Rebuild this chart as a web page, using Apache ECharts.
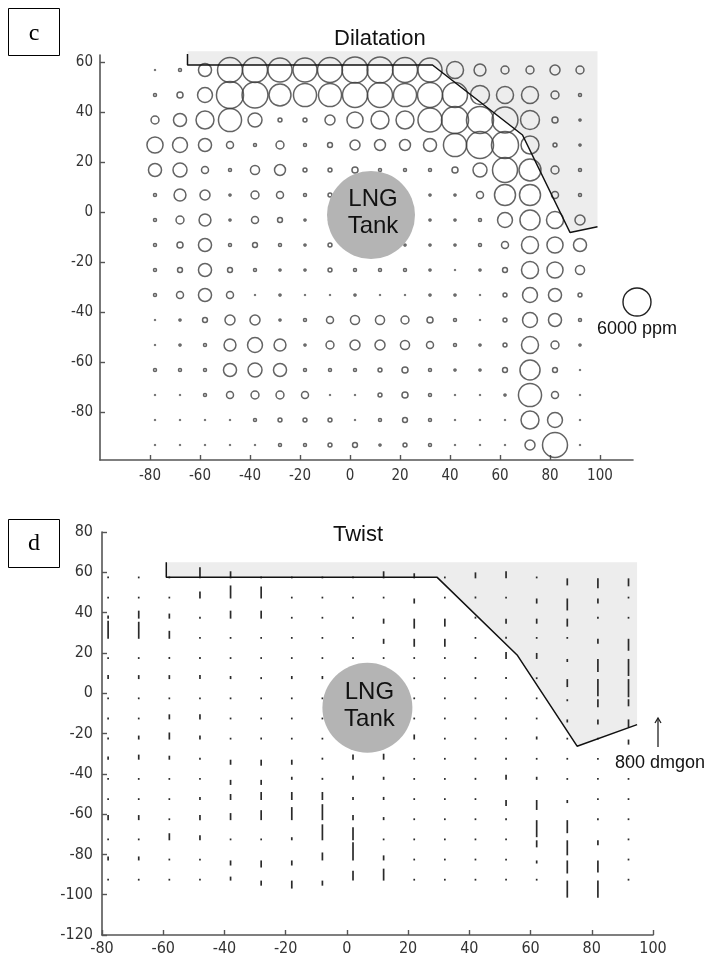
<!DOCTYPE html>
<html>
<head>
<meta charset="utf-8">
<script src="https://cdn.jsdelivr.net/npm/echarts@6/dist/echarts.min.js"></script>
<style>
html, body { margin: 0; padding: 0; background: #fff; }
#chart { width: 721px; height: 961px; }
</style>
</head>
<body>
<div id="chart"></div>
<script>
// measurement grid (same points in both panels)
var gridX = [-78, -68, -58, -48, -38, -28, -18, -8, 2, 12, 22, 32, 42, 52, 62, 72, 82, 92];
var gridY = [57, 47, 37, 27, 17, 7, -3, -13, -23, -33, -43, -53, -63, -73, -83, -93];

// dilatation in ppm, one row per gridY value
var dilatationPpm = [
    [200, 650, 2800, 5350, 5350, 5150, 5150, 5350, 5550, 5550, 5350, 5150, 3650, 2550, 1700, 1700, 2150, 1700],
    [650, 1300, 3200, 5800, 5550, 4700, 4950, 4950, 5350, 5350, 4950, 5350, 5350, 4050, 3650, 3650, 1700, 650],
    [1700, 2800, 3850, 4950, 3000, 850, 850, 2150, 3450, 3850, 3850, 5150, 5800, 5800, 5550, 4050, 1300, 450],
    [3450, 3200, 2800, 1500, 650, 1700, 650, 1050, 2150, 2350, 2350, 2800, 4950, 5800, 5800, 3850, 850, 450],
    [2800, 3000, 1500, 650, 1950, 2350, 850, 850, 1300, 650, 650, 650, 1300, 3000, 5350, 4700, 1700, 650],
    [650, 2550, 2150, 450, 1700, 1500, 650, 850, 650, 650, 650, 450, 450, 1500, 4500, 4500, 1500, 650],
    [650, 1700, 2550, 450, 1500, 1050, 450, 650, 650, 650, 650, 450, 450, 650, 3200, 4300, 3650, 2150],
    [650, 1300, 2800, 650, 1050, 650, 450, 850, 650, 650, 450, 450, 450, 650, 1500, 3650, 3450, 2800],
    [650, 1050, 2800, 1050, 650, 450, 450, 850, 650, 650, 650, 450, 200, 450, 1050, 3650, 3450, 1950],
    [650, 1500, 2800, 1500, 200, 450, 200, 200, 450, 200, 200, 450, 450, 200, 850, 3200, 2800, 850],
    [200, 450, 1050, 2150, 2150, 450, 650, 1500, 1950, 1950, 1700, 1300, 650, 200, 850, 3200, 2800, 650],
    [200, 450, 650, 2550, 3200, 2550, 450, 1700, 2150, 2150, 1950, 1500, 650, 450, 850, 3650, 1700, 450],
    [650, 650, 650, 2800, 3000, 2800, 650, 650, 650, 850, 1300, 650, 450, 450, 1050, 4300, 1050, 200],
    [200, 200, 650, 1500, 1700, 1700, 1500, 200, 200, 850, 1300, 650, 200, 200, 450, 4950, 1500, 200],
    [200, 200, 200, 200, 650, 850, 850, 850, 200, 650, 1050, 650, 200, 200, 200, 3850, 3200, 200],
    [200, 200, 200, 200, 200, 650, 650, 850, 1050, 450, 850, 650, 200, 200, 200, 2150, 5350, 200]
];

// twist in dmgon (positive = up), one row per gridY value
var twistDmgon = [
    [30, 30, 30, 305, 195, 30, 30, 30, 30, 195, 140, 30, 165, 195, 30, -195, -275, -220],
    [30, 30, 30, 195, 360, 330, 30, 30, 30, 30, -140, 30, 55, 30, -140, -330, -140, 30],
    [85, 220, 140, 30, 220, 220, 30, 30, 30, -140, -275, -220, 55, -140, -140, -220, 30, 30],
    [500, 470, 220, 30, 30, 30, 30, 30, 30, -140, -220, -220, 30, 55, 30, 30, -140, -330],
    [30, 30, 55, 55, 30, 30, 30, 30, 30, 30, 30, 30, 55, 195, 165, -85, -360, -470],
    [110, 110, 110, 110, 85, 55, 85, 85, 0, 0, 30, 30, 55, 55, 30, -220, -470, -500],
    [30, 30, 30, 30, 30, 30, 30, 30, 0, 0, 30, 30, 30, 30, 30, -55, -220, -195],
    [30, 30, 140, 140, 30, 30, 30, 30, 0, 0, 30, 30, 30, 30, 30, -85, -140, -220],
    [55, 110, 195, 110, 30, 55, 30, 30, 0, 0, 140, 30, 30, 30, 85, 30, 30, -140],
    [85, 140, 110, 55, -140, -165, -140, 55, 140, 165, 30, 30, 55, 55, 30, 30, 30, 30],
    [30, 30, 30, 30, -140, -140, 85, 55, 110, 85, 30, 30, 55, 140, 85, 30, 30, 30],
    [30, 30, 30, 85, 165, 220, 220, 220, 85, 85, 30, 30, 30, -165, -275, -85, 30, 30],
    [140, 140, 30, 140, 195, 275, 360, 440, 140, 85, 30, 30, 30, 55, -470, -360, 30, 30],
    [30, 30, 195, 140, 30, 30, 85, 440, 360, 30, 30, 30, 30, 30, -195, -415, -140, 30],
    [110, 110, 30, 30, -140, -195, -140, 220, 500, 140, 30, 30, 30, 30, -85, -360, -330, 30],
    [30, 30, 30, 30, 110, -140, -220, -140, 275, 330, 30, 30, 30, 30, 30, -470, -470, 30]
];

var xTicks = [-80, -60, -40, -20, 0, 20, 40, 60, 80, 100];
var yTicksTop = [-80, -60, -40, -20, 0, 20, 40, 60];
var yTicksBottom = [-120, -100, -80, -60, -40, -20, 0, 20, 40, 60, 80];

// boundary lines
var topBoundX = [-65, -65, 33, 69, 88, 99];
var topBoundY = [63.4, 59, 59, 31, -8, -5.7];
var topShadeX = [-65, -65, 33, 69, 88, 99, 99];
var topShadeY = [64.5, 59, 59, 31, -8, -5.7, 64.5];
var botBoundX = [-59, -59, 29.5, 55.6, 75.2, 94.8];
var botBoundY = [65, 57.5, 57.5, 19, -26.3, -15.6];
var botShadeX = [-59, -59, 29.5, 55.6, 75.2, 94.8, 94.8];
var botShadeY = [65, 57.5, 57.5, 19, -26.3, -15.6, 65];

// tank position and radius (x units)
var tankTop = [8.4, -1];
var tankTopRadius = 17.6;
var tankBottom = [6.7, -7.2];
var tankBottomRadius = 14.7;

var ppmKey = 6000;
var dmgonKey = 800;
var ppmPx = 28 / 6000;   // bubble diameter per ppm
var dmgonPx = 29 / 800;  // segment length per dmgon

var tickFont = "'Liberation Sans Narrow', 'DejaVu Sans Condensed', 'Liberation Sans', sans-serif";
var textFont = "'Liberation Sans', Arial, sans-serif";
var axisColor = '#555';

var bubbles = [];
var twists = [];
gridY.forEach(function (y, i) {
    gridX.forEach(function (x, j) {
        bubbles.push([x, y, dilatationPpm[i][j]]);
        twists.push([x, y, twistDmgon[i][j]]);
    });
});

function pairs(xs, ys) {
    return xs.map(function (x, i) { return [x, ys[i]]; });
}

function shadeRenderer(xs, ys) {
    return function (params, api) {
        var pts = xs.map(function (x, i) { return api.coord([x, ys[i]]); });
        return { type: 'polygon', shape: { points: pts }, style: { fill: '#ededed' }, silent: true };
    };
}

function tankRenderer(c, r) {
    return function (params, api) {
        var p = api.coord(c);
        var rp = api.size([r, 0])[0];
        return {
            type: 'group',
            children: [
                { type: 'circle', shape: { cx: p[0], cy: p[1], r: rp }, style: { fill: '#b4b4b4' } },
                { type: 'text', x: p[0] + 2, y: p[1] - 2, style: {
                    text: 'LNG\nTank', fill: '#111', font: '24px ' + textFont,
                    align: 'center', verticalAlign: 'middle', lineHeight: 27 } }
            ]
        };
    };
}

function tickFilter(list) {
    return function (v) { return list.indexOf(Math.round(v * 1000) / 1000) >= 0 ? String(v) : ''; };
}

function valueAxis(idx, min, max, ticks, fontSize, margin) {
    return {
        type: 'value', gridIndex: idx, min: min, max: max,
        splitLine: { show: false },
        axisLine: { show: true, onZero: false, lineStyle: { color: axisColor, width: 1.6 } },
        axisTick: { show: true, inside: true, length: 5, customValues: ticks, lineStyle: { color: axisColor, width: 1.4 } },
        axisLabel: { customValues: ticks, formatter: tickFilter(ticks), color: '#333',
            fontFamily: tickFont, fontSize: fontSize, margin: margin,
            showMinLabel: true, showMaxLabel: true }
    };
}

var myChart = echarts.init(document.getElementById('chart'), null, { renderer: 'canvas' });

var option = {
    animation: false,
    backgroundColor: '#fff',
    grid: [
        { left: 100, top: 55, width: 533, height: 405 },
        { left: 102, top: 532, width: 551, height: 403 }
    ],
    xAxis: [
        valueAxis(0, -100, 113.2, xTicks, 15, 9),
        valueAxis(1, -80, 100, xTicks, 16, 6)
    ],
    yAxis: [
        valueAxis(0, -99, 63, yTicksTop, 15, 7),
        valueAxis(1, -120, 80, yTicksBottom, 16, 9)
    ],
    series: [
        { type: 'custom', xAxisIndex: 0, yAxisIndex: 0, data: [0], z: 1, silent: true,
          renderItem: shadeRenderer(topShadeX, topShadeY) },
        { type: 'scatter', xAxisIndex: 0, yAxisIndex: 0, data: bubbles, z: 2, silent: true,
          symbol: 'circle',
          symbolSize: function (v) { return Math.max(v[2] * ppmPx, 0.8); },
          itemStyle: { color: 'rgba(0,0,0,0)', borderColor: '#3c3c3c', borderWidth: 1.5 } },
        { type: 'line', xAxisIndex: 0, yAxisIndex: 0, data: pairs(topBoundX, topBoundY), z: 3,
          clip: false, symbol: 'none', silent: true, lineStyle: { color: '#111', width: 1.5 } },
        { type: 'custom', xAxisIndex: 0, yAxisIndex: 0, data: [0], z: 4, silent: true,
          renderItem: tankRenderer(tankTop, tankTopRadius) },

        { type: 'custom', xAxisIndex: 1, yAxisIndex: 1, data: [0], z: 1, silent: true,
          renderItem: shadeRenderer(botShadeX, botShadeY) },
        { type: 'custom', xAxisIndex: 1, yAxisIndex: 1, data: twists, z: 2, silent: true,
          encode: { x: 0, y: 1 },
          renderItem: function (params, api) {
              var p = api.coord([api.value(0), api.value(1)]);
              var len = api.value(2) * dmgonPx;
              if (Math.abs(len) < 1.8) { len = len < 0 ? -1.8 : 1.8; }
              return { type: 'line', shape: { x1: p[0], y1: p[1], x2: p[0], y2: p[1] - len },
                       style: { stroke: '#2a2a2a', lineWidth: 1.7 } };
          } },
        { type: 'line', xAxisIndex: 1, yAxisIndex: 1, data: pairs(botBoundX, botBoundY), z: 3,
          clip: false, symbol: 'none', silent: true, lineStyle: { color: '#111', width: 1.5 } },
        { type: 'custom', xAxisIndex: 1, yAxisIndex: 1, data: [0], z: 4, silent: true,
          renderItem: tankRenderer(tankBottom, tankBottomRadius) }
    ],
    graphic: [
        { type: 'text', left: 384 - 50, top: 28, style: { text: 'Dilatation', font: '22px ' + textFont, fill: '#111' } },
        { type: 'text', x: 358, y: 535, style: { text: 'Twist', font: '22px ' + textFont, fill: '#111', align: 'center', verticalAlign: 'middle' } },
        { type: 'rect', shape: { x: 8.5, y: 8.5, width: 51, height: 47 }, style: { fill: '#fff', stroke: '#000', lineWidth: 1 } },
        { type: 'text', x: 34, y: 34, style: { text: 'c', font: '24px "Liberation Serif", "Times New Roman", serif', fill: '#000', align: 'center', verticalAlign: 'middle' } },
        { type: 'rect', shape: { x: 8.5, y: 519.5, width: 51, height: 48 }, style: { fill: '#fff', stroke: '#000', lineWidth: 1 } },
        { type: 'text', x: 34, y: 544, style: { text: 'd', font: '24px "Liberation Serif", "Times New Roman", serif', fill: '#000', align: 'center', verticalAlign: 'middle' } },
        // bubble key
        { type: 'circle', shape: { cx: 637, cy: 302, r: ppmKey * ppmPx / 2 }, style: { fill: 'none', stroke: '#222', lineWidth: 1.4 } },
        { type: 'text', x: 597, y: 329, style: { text: ppmKey + ' ppm', font: '18px ' + textFont, fill: '#111', verticalAlign: 'middle' } },
        // twist key
        { type: 'line', shape: { x1: 658, y1: 747, x2: 658, y2: 747 - dmgonKey * dmgonPx }, style: { stroke: '#222', lineWidth: 1.3 } },
        { type: 'polyline', shape: { points: [[655, 747 - dmgonKey * dmgonPx + 5], [658, 747 - dmgonKey * dmgonPx], [661, 747 - dmgonKey * dmgonPx + 5]] }, style: { stroke: '#222', lineWidth: 1.3, fill: 'none' } },
        { type: 'text', x: 615, y: 763, style: { text: dmgonKey + ' dmgon', font: '18px ' + textFont, fill: '#111', verticalAlign: 'middle' } }
    ]
};

myChart.setOption(option);

window.addEventListener('resize', function () {
    myChart.resize();
});
</script>
</body>
</html>
